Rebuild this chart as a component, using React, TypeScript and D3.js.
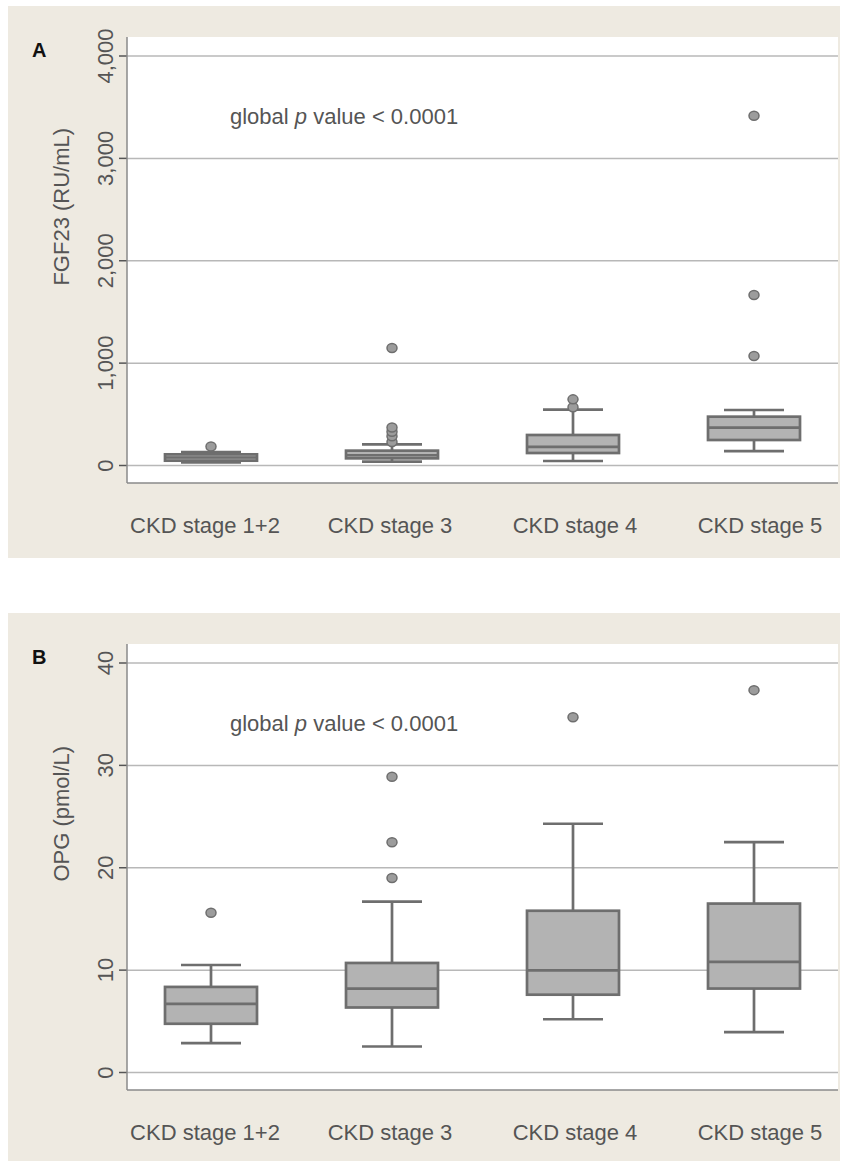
import React from "react";
import * as d3 from "d3";

const categories = ["CKD stage 1+2", "CKD stage 3", "CKD stage 4", "CKD stage 5"];

// Panel A: FGF23 (RU/mL)
const fgfTicks = [0, 1000, 2000, 3000, 4000];
const fgfLower = [31, 37, 44, 141];
const fgfQ1 = [47, 70, 122, 249];
const fgfMedian = [78, 100, 181, 369];
const fgfQ3 = [109, 145, 298, 477];
const fgfUpper = [132, 207, 545, 542];
const fgfOutliers = [[185], [230, 285, 330, 372, 1147], [568, 646], [1070, 1665, 3416]];

// Panel B: OPG (pmol/L)
const opgTicks = [0, 10, 20, 30, 40];
const opgLower = [2.87, 2.54, 5.2, 3.95];
const opgQ1 = [4.76, 6.35, 7.6, 8.2];
const opgMedian = [6.7, 8.2, 9.98, 10.8];
const opgQ3 = [8.36, 10.7, 15.8, 16.5];
const opgUpper = [10.5, 16.7, 24.3, 22.5];
const opgOutliers = [[15.6], [19.0, 22.5, 28.9], [34.7], [37.35]];

const FONT = "'Liberation Sans', Arial, Helvetica, sans-serif";
const TEXT = "#555555";
const BOX_STROKE = "#6e6e6e";
const BOX_FILL = "#b3b3b3";
const GRID = "#b8b8b8";
const BEIGE = "#eeeae1";

type PanelProps = {
  top: number;
  letter: string;
  title: string;
  ticks: number[];
  maxV: number;
  lower: number[];
  q1: number[];
  median: number[];
  q3: number[];
  upper: number[];
  outliers: number[][];
};

function Panel(p: PanelProps) {
  const plotL = 127, plotR = 838;
  const plotT = p.top + 31, plotB = p.top + 477;
  const y = d3.scaleLinear().domain([0, p.maxV]).range([p.top + 459.5, p.top + 50]);
  const x = d3.scalePoint<string>().domain(categories).range([211, 754]);
  const xl = d3.scalePoint<string>().domain(categories).range([205, 760]);
  const fmt = d3.format(",");
  const boxW = 92, capW = 60;
  const midY = (y(0) + y(p.maxV)) / 2;
  const sw = 2.7;
  return (
    <g>
      <rect x={8} y={p.top} width={832} height={552} fill={BEIGE} />
      <rect x={plotL} y={plotT} width={plotR - plotL} height={plotB - plotT} fill="#ffffff" />
      {p.ticks.map((t) => (
        <g key={t}>
          <line x1={plotL} x2={plotR} y1={y(t)} y2={y(t)} stroke={GRID} strokeWidth={1.5} />
          <line x1={119} x2={plotL} y1={y(t)} y2={y(t)} stroke="#555" strokeWidth={1.5} />
          <text
            transform={`translate(113,${y(t)}) rotate(-90)`}
            textAnchor="middle"
            fontFamily={FONT}
            fontSize={22}
            fill={TEXT}
          >
            {fmt(t)}
          </text>
        </g>
      ))}
      <line x1={plotL} x2={plotL} y1={plotT} y2={plotB} stroke="#8a8a8a" strokeWidth={1.5} />
      <line x1={plotL} x2={plotR} y1={plotB} y2={plotB} stroke="#8a8a8a" strokeWidth={1.5} />
      <text
        transform={`translate(69,${midY - 54}) rotate(-90)`}
        textAnchor="middle"
        fontFamily={FONT}
        fontSize={22}
        fill={TEXT}
      >
        {p.title}
      </text>
      <text x={32} y={p.top + 51} fontFamily={FONT} fontSize={20} fontWeight="bold" fill="#111">
        {p.letter}
      </text>
      <text x={230} y={p.top + 118} fontFamily={FONT} fontSize={22} fill={TEXT}>
        global <tspan fontStyle="italic">p</tspan> value &lt; 0.0001
      </text>
      {categories.map((c, i) => {
        const cx = x(c) as number;
        return (
          <g key={c}>
            <line x1={cx} x2={cx} y1={y(p.upper[i])} y2={y(p.q3[i])} stroke={BOX_STROKE} strokeWidth={sw} />
            <line x1={cx} x2={cx} y1={y(p.lower[i])} y2={y(p.q1[i])} stroke={BOX_STROKE} strokeWidth={sw} />
            <line x1={cx - capW / 2} x2={cx + capW / 2} y1={y(p.upper[i])} y2={y(p.upper[i])} stroke={BOX_STROKE} strokeWidth={sw} />
            <line x1={cx - capW / 2} x2={cx + capW / 2} y1={y(p.lower[i])} y2={y(p.lower[i])} stroke={BOX_STROKE} strokeWidth={sw} />
            <rect
              x={cx - boxW / 2}
              y={y(p.q3[i])}
              width={boxW}
              height={y(p.q1[i]) - y(p.q3[i])}
              fill={BOX_FILL}
              stroke={BOX_STROKE}
              strokeWidth={sw}
            />
            <line x1={cx - boxW / 2} x2={cx + boxW / 2} y1={y(p.median[i])} y2={y(p.median[i])} stroke={BOX_STROKE} strokeWidth={sw} />
            {p.outliers[i].map((v, j) => (
              <ellipse key={j} cx={cx} cy={y(v)} rx={5} ry={4.5} fill="#9c9c9c" stroke={BOX_STROKE} strokeWidth={1.5} />
            ))}
            <text x={xl(c) as number} y={p.top + 527} textAnchor="middle" fontFamily={FONT} fontSize={22} fill={TEXT}>
              {c}
            </text>
          </g>
        );
      })}
    </g>
  );
}

export default function App() {
  return (
    <svg width={846} height={1161} style={{ position: "absolute", left: 0, top: 0, background: "#ffffff" }}>
      <rect x={0} y={0} width={846} height={1161} fill="#ffffff" />
      <Panel
        top={6}
        letter="A"
        title="FGF23 (RU/mL)"
        ticks={fgfTicks}
        maxV={4000}
        lower={fgfLower}
        q1={fgfQ1}
        median={fgfMedian}
        q3={fgfQ3}
        upper={fgfUpper}
        outliers={fgfOutliers}
      />
      <Panel
        top={613}
        letter="B"
        title="OPG (pmol/L)"
        ticks={opgTicks}
        maxV={40}
        lower={opgLower}
        q1={opgQ1}
        median={opgMedian}
        q3={opgQ3}
        upper={opgUpper}
        outliers={opgOutliers}
      />
    </svg>
  );
}
